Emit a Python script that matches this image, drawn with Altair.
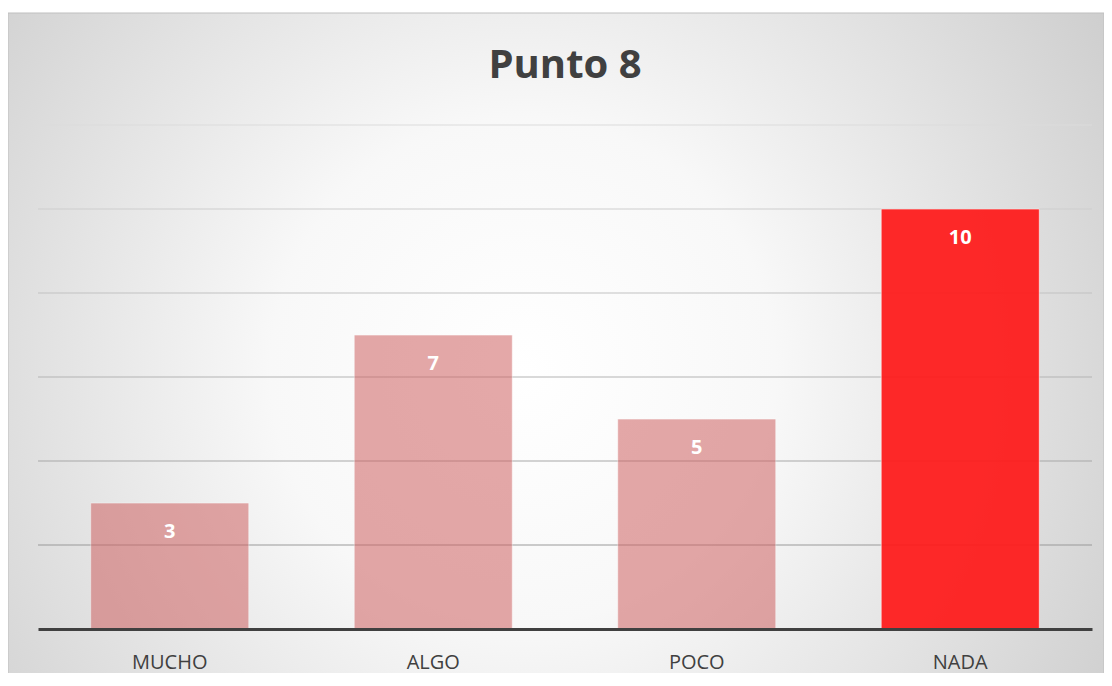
import altair as alt
import pandas as pd

categorias = ["MUCHO", "ALGO", "POCO", "NADA"]
valores = [3, 7, 5, 10]
grid_ticks = [2, 4, 6, 8, 10, 12]
titulo = "Punto 8"

W, H = 1054, 504
FONT = "Open Sans"

df = pd.DataFrame({"categoria": categorias, "valor": valores})
grid_df = pd.DataFrame({"v": grid_ticks})
one = pd.DataFrame({"k": [0]})

x_enc = alt.X("categoria:N", sort=categorias,
              scale=alt.Scale(paddingInner=0.4, paddingOuter=0.2),
              axis=alt.Axis(title=None, labelAngle=0, ticks=False, labelPadding=23,
                            labelFont=FONT, labelFontSize=20, labelColor="#404040",
                            domainColor="#404040", domainWidth=3, grid=False, zindex=1))
y_scale = alt.Scale(domain=[0, 12], nice=False)

bg = alt.Chart(one).mark_rect(
    fill=alt.Gradient(gradient="radial",
                      stops=[alt.GradientStop(color="#FFFFFF", offset=0),
                             alt.GradientStop(color="#F8F8F8", offset=0.32),
                             alt.GradientStop(color="#C4C4C4", offset=1)],
                      x1=0.47, y1=0.52, r1=0, x2=0.47, y2=0.52, r2=0.72),
    stroke="#BFBFBF", strokeWidth=1
).encode(x=alt.value(-30), x2=alt.value(1066), y=alt.value(-112), y2=alt.value(560))

grid = alt.Chart(grid_df).mark_rule(strokeWidth=1.2).encode(
    y=alt.Y("v:Q", scale=y_scale, axis=None),
    x=alt.value(0), x2=alt.value(W),
    color=alt.Color("v:Q", scale=alt.Scale(domain=[2, 12], range=["#9A9A9A", "#DCDCDC"]), legend=None),
)

bars = alt.Chart(df).mark_bar(stroke="#FFFFFF", strokeWidth=1, strokeOpacity=0.6).encode(
    x=x_enc,
    y=alt.Y("valor:Q", scale=y_scale, axis=None),
    color=alt.condition(alt.datum.categoria == "NADA", alt.value("#FF1A1A"), alt.value("#CF6262")),
    opacity=alt.condition(alt.datum.categoria == "NADA", alt.value(0.93), alt.value(0.55)),
)

labels = alt.Chart(df).mark_text(font=FONT, fontSize=20, fontWeight="bold", color="#FFFFFF",
                                 baseline="middle", dy=29).encode(
    x=alt.X("categoria:N", sort=categorias),
    y=alt.Y("valor:Q", scale=y_scale),
    text="valor:Q",
)

title = alt.Chart(one).mark_text(font=FONT, fontSize=40, fontWeight="bold", color="#404040",
                                 baseline="alphabetic", align="center").encode(
    x=alt.value(W / 2), y=alt.value(-47), text=alt.value(titulo))

chart = alt.layer(bg, grid, bars, labels, title).properties(
    width=W, height=H,
    autosize=alt.AutoSizeParams(type="none"),
    padding={"left": 30, "top": 117, "right": 12, "bottom": 44},
).configure_view(stroke=None)

chart.save("out.html", embed_options={"renderer": "svg", "actions": False})
